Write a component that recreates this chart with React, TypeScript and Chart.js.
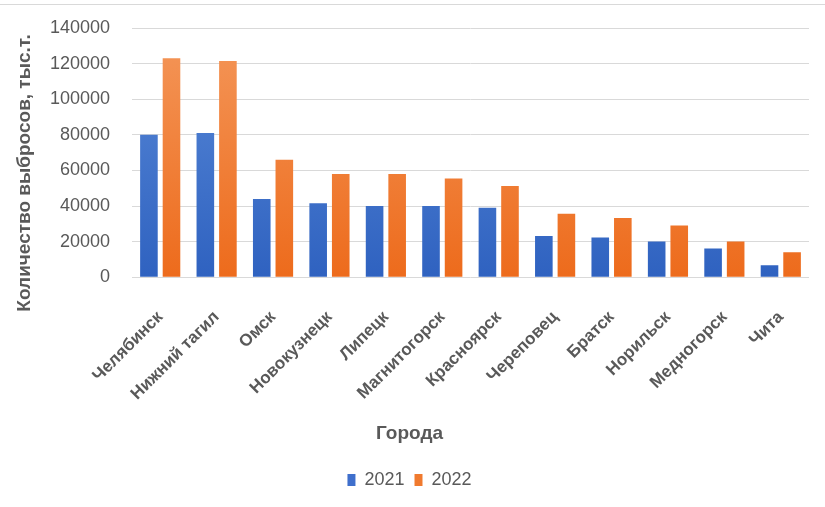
import React, { useEffect, useRef } from "react";
import { Chart, registerables } from "chart.js";

Chart.register(...registerables);

const cities = [
  "Челябинск",
  "Нижний тагил",
  "Омск",
  "Новокузнецк",
  "Липецк",
  "Магнитогорск",
  "Красноярск",
  "Череповец",
  "Братск",
  "Норильск",
  "Медногорск",
  "Чита",
];
const values2021 = [80000, 81000, 44000, 41500, 40000, 40000, 39000, 23200, 22300, 20000, 16100, 6700];
const values2022 = [123000, 121500, 66000, 58000, 58000, 55400, 51300, 35600, 33300, 29000, 20000, 14000];
const yTicks = [0, 20000, 40000, 60000, 80000, 100000, 120000, 140000];
const yTitle = "Количество выбросов, тыс.т.";
const xTitle = "Города";

const TEXT = "#595959";
const GRID = "#d9d9d9";
const FONT = "'Liberation Sans', Arial, sans-serif";

function grad(ctx: any, top: string, bottom: string) {
  const chart = ctx.chart;
  const area = chart.chartArea;
  if (!area) return bottom;
  const g = chart.ctx.createLinearGradient(0, area.top, 0, area.bottom);
  g.addColorStop(0, top);
  g.addColorStop(1, bottom);
  return g;
}

const yTitlePlugin = {
  id: "yTitleCustom",
  afterDraw(chart: any) {
    const c = chart.ctx;
    c.save();
    c.translate(25, 173);
    c.rotate(-Math.PI / 2);
    c.font = `bold 19px ${FONT}`;
    c.fillStyle = TEXT;
    c.textAlign = "center";
    c.textBaseline = "middle";
    c.fillText(yTitle, 0, 0);
    c.restore();
  },
};

export default function App() {
  const ref = useRef<HTMLCanvasElement | null>(null);

  useEffect(() => {
    document.body.style.margin = "0";
    const canvas = ref.current;
    if (!canvas) return;
    const chart = new Chart(canvas, {
      type: "bar",
      data: {
        labels: cities,
        datasets: [
          {
            label: "2021",
            data: values2021,
            backgroundColor: (ctx: any) => grad(ctx, "#5a8ad8", "#2f62c0"),
            categoryPercentage: 0.8,
            barPercentage: 0.78,
          },
          {
            label: "2022",
            data: values2022,
            backgroundColor: (ctx: any) => grad(ctx, "#f4975a", "#ed6b1c"),
            categoryPercentage: 0.8,
            barPercentage: 0.78,
          },
        ],
      },
      plugins: [yTitlePlugin],
      options: {
        animation: false,
        responsive: false,
        maintainAspectRatio: false,
        layout: { padding: { left: 10, right: 16, top: 28, bottom: 8 } },
        plugins: {
          tooltip: { enabled: false },
          title: {
            display: true,
            position: "bottom",
            text: xTitle,
            color: TEXT,
            font: { family: FONT, size: 19, weight: "bold" },
            padding: { top: 0, bottom: 16 },
          },
          legend: {
            position: "bottom",
            weight: 3000,
            labels: {
              color: TEXT,
              font: { family: FONT, size: 18 },
              boxWidth: 8,
              boxHeight: 12,
              padding: 10,
              generateLabels: (c: any) =>
                c.data.datasets.map((d: any, i: number) => ({
                  text: d.label,
                  fillStyle: i === 0 ? "#3f6fcc" : "#f07a2e",
                  strokeStyle: "transparent",
                  lineWidth: 0,
                  datasetIndex: i,
                  fontColor: TEXT,
                })),
            },
          },
        },
        scales: {
          x: {
            grid: { display: false },
            border: { display: false },
            ticks: {
              color: TEXT,
              font: { family: FONT, size: 17, weight: "bold" },
              minRotation: 45,
              maxRotation: 45,
              autoSkip: false,
              padding: 22,
            },
            afterFit: (s: any) => {
              s.height = 145;
              s.paddingLeft = 0;
              s.paddingRight = 0;
            },
          },
          y: {
            min: 0,
            max: 140000,
            afterBuildTicks: (s: any) => {
              s.ticks = yTicks.map((v) => ({ value: v }));
            },
            grid: { color: GRID, lineWidth: 1, drawTicks: false },
            border: { display: false },
            ticks: {
              color: TEXT,
              font: { family: FONT, size: 18 },
              padding: 22,
              callback: (v: any) => String(v),
            },
            afterFit: (s: any) => {
              s.width = 122;
              s.paddingTop = 0;
              s.paddingBottom = 0;
            },
          },
        },
      },
    });
    return () => chart.destroy();
  }, []);

  return (
    <div style={{ position: "relative", width: 825, height: 507, background: "#fff" }}>
      <div style={{ position: "absolute", left: 0, top: 4, width: 825, height: 0, borderTop: "1.5px solid #d9d9d9" }} />
      <canvas ref={ref} width={825} height={507} style={{ display: "block" }} />
    </div>
  );
}
